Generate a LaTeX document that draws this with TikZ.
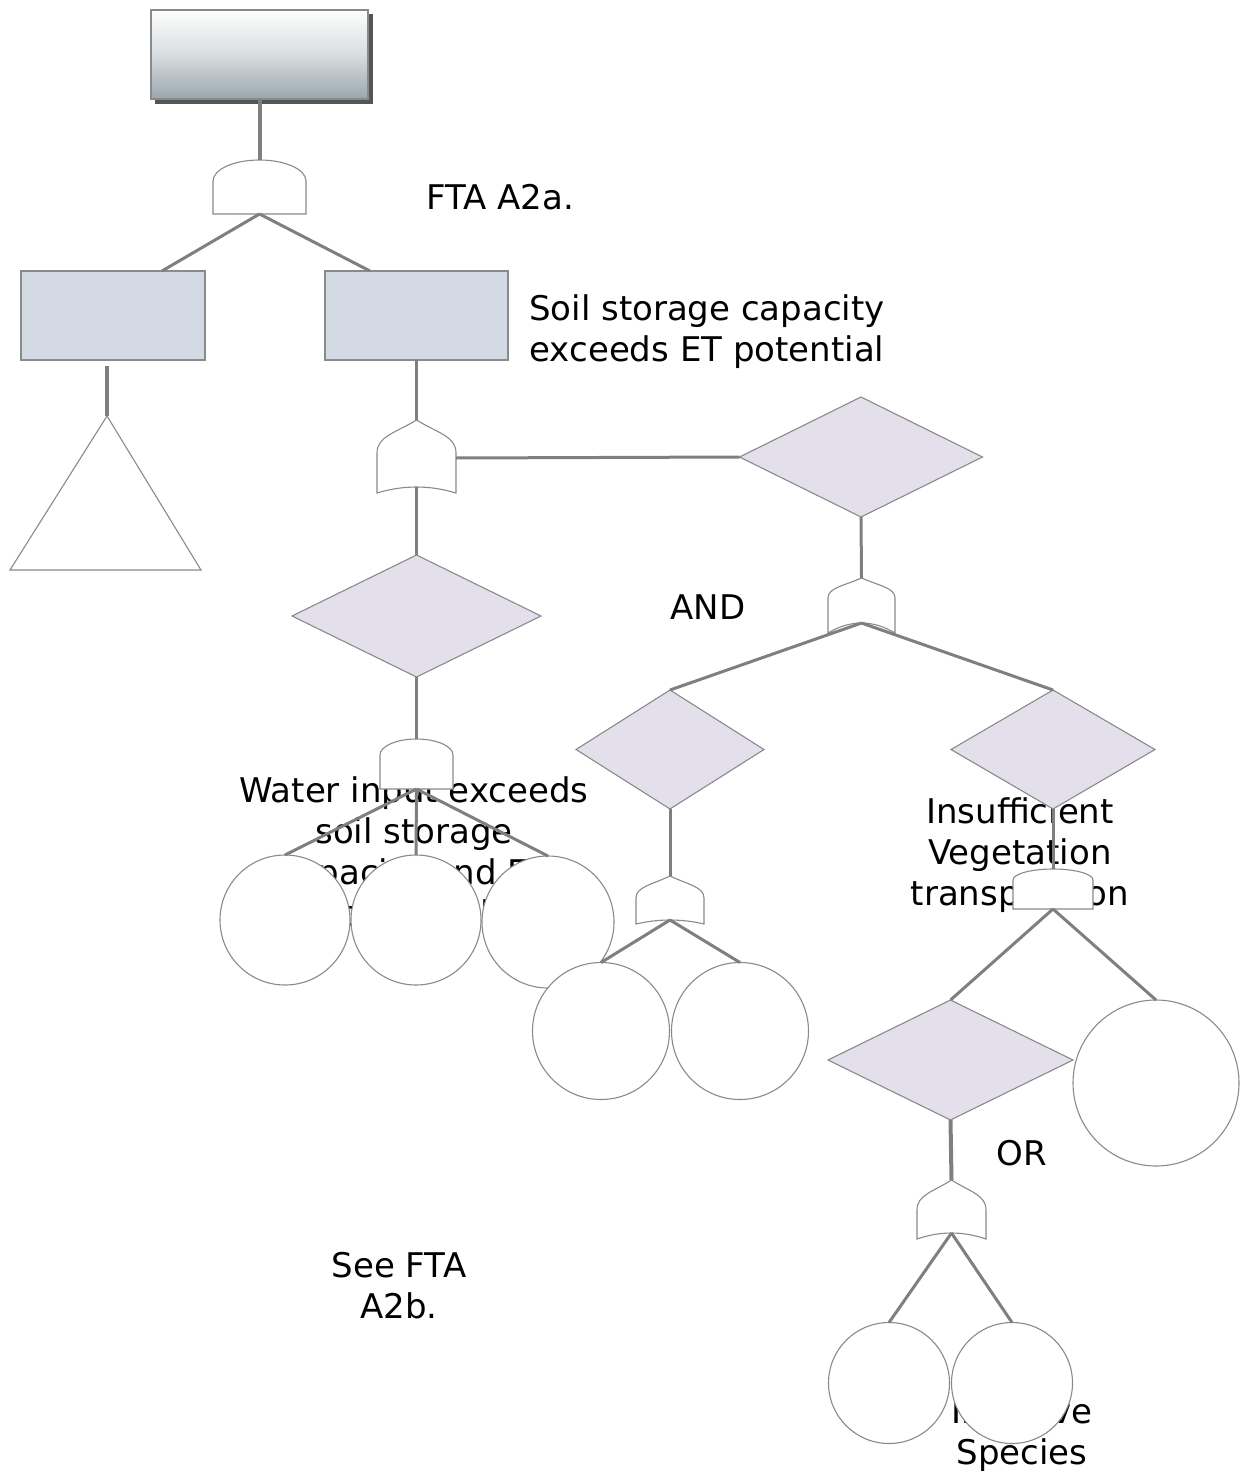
\documentclass[tikz,border=0pt]{standalone}
\usepackage{fontspec}
\setmainfont{DejaVu Sans}
\usetikzlibrary{shapes.geometric,calc}
\definecolor{edgegray}{HTML}{8A8A8A}
\definecolor{linkgray}{HTML}{7F7F7F}
\definecolor{boxfill}{HTML}{D3DAE4}
\definecolor{diafill}{HTML}{E3DFEB}
\definecolor{shadowgray}{HTML}{555555}
\definecolor{gradtop}{HTML}{FDFDFD}
\definecolor{gradmid}{HTML}{D8DDE0}
\definecolor{gradbot}{HTML}{9AA6AF}
\tikzset{
  outl/.style={draw=edgegray, line width=0.55pt},
  link/.style={draw=linkgray, line width=1.5pt},
  thicklink/.style={draw=linkgray, line width=2pt},
  evbox/.style={outl, fill=boxfill, rectangle, inner sep=0pt, outer sep=0pt},
  diabox/.style={outl, fill=diafill, diamond, inner sep=0pt, outer sep=0pt},
  basic/.style={outl, fill=white, circle, inner sep=0pt, outer sep=0pt},
  gatestyle/.style={outl, fill=white},
  lbl/.style={font=\fontsize{17pt}{20.5pt}\selectfont, align=center, inner sep=0pt},
}
% AND gate: name, L, R, T, S (start of arc), B
\newcommand\gateAND[6]{%
  \pgfmathsetmacro\gcx{(#2+#3)/2}%
  \pgfmathsetmacro\gky{#5-0.552*(#5-#4)}%
  \pgfmathsetmacro\gkl{\gcx-0.552*(\gcx-#2)}%
  \pgfmathsetmacro\gkr{\gcx+0.552*(\gcx-#2)}%
  \draw[gatestyle] (#2,#6) -- (#2,#5) .. controls (#2,\gky) and (\gkl,#4) .. (\gcx,#4)
     .. controls (\gkr,#4) and (#3,\gky) .. (#3,#5) -- (#3,#6) -- cycle;
  \coordinate (#1t) at (\gcx,#4);
  \coordinate (#1b) at (\gcx,#6);
}
% OR gate: name, L, R, T, S, B, Bc (bottom centre)
\newcommand\gateOR[7]{%
  \pgfmathsetmacro\gcx{(#2+#3)/2}%
  \pgfmathsetmacro\gsa{#5-0.5*(#5-#4)}%
  \pgfmathsetmacro\gsb{#4+0.4*(#5-#4)}%
  \pgfmathsetmacro\gkl{\gcx-0.55*(\gcx-#2)}%
  \pgfmathsetmacro\gkr{\gcx+0.55*(\gcx-#2)}%
  \pgfmathsetmacro\gbe{(4*#7-#6)/3}%
  \pgfmathsetmacro\gbl{#2+(#3-#2)/3}%
  \pgfmathsetmacro\gbr{#3-(#3-#2)/3}%
  \draw[gatestyle] (#2,#6) -- (#2,#5) .. controls (#2,\gsa) and (\gkl,\gsb) .. (\gcx,#4)
     .. controls (\gkr,\gsb) and (#3,\gsa) .. (#3,#5) -- (#3,#6)
     .. controls (\gbr,\gbe) and (\gbl,\gbe) .. (#2,#6) -- cycle;
  \coordinate (#1t) at (\gcx,#4);
  \coordinate (#1b) at (\gcx,#7);
}
\begin{document}
\begin{tikzpicture}[x=0.5pt,y=-0.5pt]
\useasboundingbox (0,0) rectangle (1241,1471);

% ---------- texts (drawn first: shapes cover parts of them)
\node[lbl] (tfta) at (500,197) {FTA A2a.};
\node[lbl] (tsoil) at (707,332) {Soil storage capacity\\exceeds ET potential};
\node[lbl] (tand) at (708,607) {AND};
\node[lbl] (twater) at (414,855) {Water input exceeds\\soil storage\\capacity and ET\\potential};
\node[lbl] (tinsuf) at (1020,855.5) {Insufficient\\Vegetation\\transpiration};
\node[lbl] (tor) at (1022,1153) {OR};
\node[lbl] (tsee) at (399,1285.5) {See FTA\\A2b.};
\node[lbl] (tinv) at (1022,1435) {Invasive\\Species};

% ---------- shapes
\fill[shadowgray] (155,14) rectangle (373,104);
\node[outl, rectangle, inner sep=0pt, outer sep=0pt, minimum width=108.5pt, minimum height=44.5pt,
      top color=gradtop, bottom color=gradbot, middle color=gradmid] (top) at (259.5,54.5) {};

\coordinate (lbout) at (107,366);
\coordinate (tri) at (107,416);

\gateAND{ga}{213}{306}{160}{181}{214}
\gateOR{gb}{377}{456}{420}{453}{493}{487}
\gateAND{gc}{380}{453}{739}{755}{789}
\gateOR{gd}{828}{895}{578}{598}{633}{623}
\gateOR{ge}{636}{704}{876}{898}{924}{920}
\gateAND{gf}{1013}{1093}{869}{880}{909}
\gateOR{gg}{917}{986}{1180}{1210}{1239}{1233}
\coordinate (gbr) at (456,458);

\node[evbox, minimum width=92pt, minimum height=44.5pt] (lbox) at (113,315.5) {};
\node[evbox, minimum width=91.5pt, minimum height=44.5pt] (rbox) at (416.5,315.5) {};

\node[diabox, minimum width=121.5pt, minimum height=60pt] (d1) at (861,457) {};
\node[diabox, minimum width=124.5pt, minimum height=61pt] (d2) at (416.5,616) {};
\node[diabox, minimum width=94pt, minimum height=59.5pt] (d3) at (670,749.5) {};
\node[diabox, minimum width=102pt, minimum height=59.5pt] (d4) at (1053,749.5) {};
\node[diabox, minimum width=122.5pt, minimum height=60pt] (d5) at (950.5,1060) {};

\node[basic, minimum size=65pt] (c1) at (285,920) {};
\node[basic, minimum size=65pt] (c2) at (416,920) {};
\node[basic, minimum size=66pt] (c3) at (548,922) {};
\node[basic, minimum size=68.5pt] (c4) at (601,1031) {};
\node[basic, minimum size=68.5pt] (c5) at (740,1031) {};
\node[basic, minimum size=83pt] (c6) at (1156,1083) {};
\node[basic, minimum size=60.5pt] (c7) at (889,1383) {};
\node[basic, minimum size=60.5pt] (c8) at (1012,1383) {};

\draw[outl, fill=white] (tri) -- (201,570) -- (10,570) -- cycle;

% ---------- connectors
\draw[thicklink] (top.south) -- (gat);
\draw[link] (gab) -- ($(lbox.north east)+(-43,0)$);
\draw[link] (gab) -- ($(rbox.north)+(-46.5,0)$);
\draw[thicklink] (lbout) -- (tri);
\draw[link] (rbox.south) -- (gbt);
\draw[link] (gbr) -- (d1.west);
\draw[link] (gbb) -- (d2.north);
\draw[link] (d2.south) -- (gct);
\draw[link] (gcb) -- (c1.north);
\draw[link] (gcb) -- (c2.north);
\draw[link] (gcb) -- (c3.north);
\draw[link] (d1.south) -- (gdt);
\draw[link] (gdb) -- (d3.north);
\draw[link] (gdb) -- (d4.north);
\draw[link] (d3.south) -- (get);
\draw[link] (geb) -- (c4.north);
\draw[link] (geb) -- (c5.north);
\draw[link] (d4.south) -- (gft);
\draw[link] (gfb) -- (d5.north);
\draw[link] (gfb) -- (c6.north);
\draw[thicklink] (d5.south) -- (ggt);
\draw[link] (ggb) -- (c7.north);
\draw[link] (ggb) -- (c8.north);
\end{tikzpicture}
\end{document}
